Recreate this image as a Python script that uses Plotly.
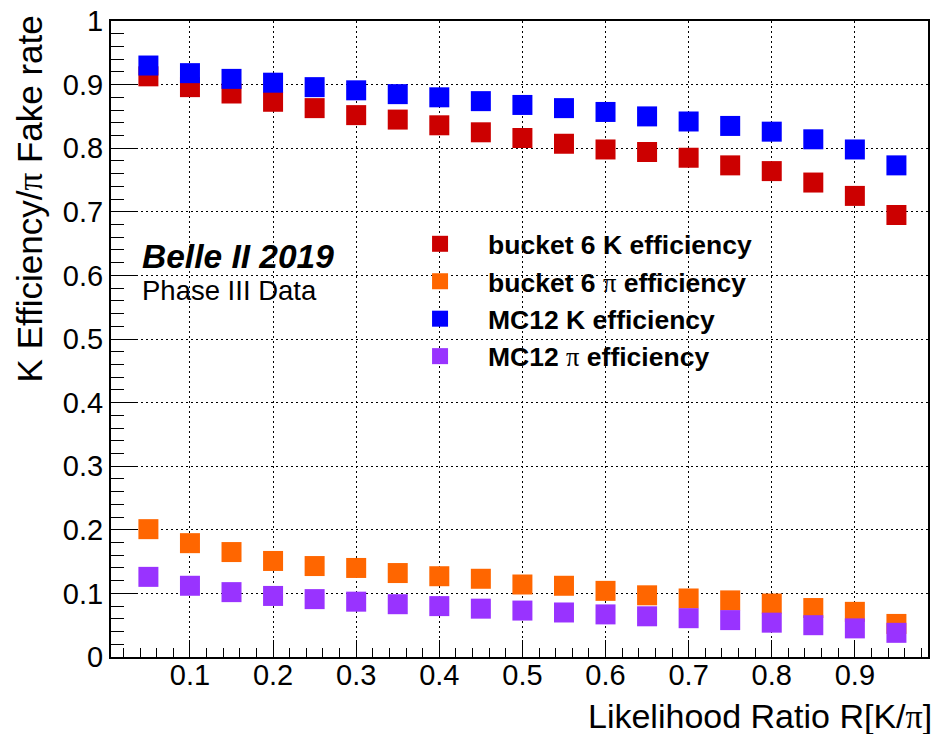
import plotly.graph_objects as go

# Likelihood-ratio cut values R[K/pi]
ratio_cut = [0.05, 0.10, 0.15, 0.20, 0.25, 0.30, 0.35, 0.40, 0.45, 0.50,
             0.55, 0.60, 0.65, 0.70, 0.75, 0.80, 0.85, 0.90, 0.95]

# bucket 6 data
bucket6_k_eff = [0.913, 0.896, 0.886, 0.873, 0.863, 0.852, 0.845, 0.836, 0.825, 0.816,
                 0.807, 0.798, 0.794, 0.785, 0.773, 0.764, 0.746, 0.725, 0.695]
bucket6_pi_eff = [0.201, 0.179, 0.165, 0.151, 0.143, 0.140, 0.132, 0.127, 0.123, 0.114,
                  0.112, 0.104, 0.097, 0.092, 0.089, 0.084, 0.077, 0.071, 0.052]

# MC12 simulation
mc12_k_eff = [0.930, 0.918, 0.909, 0.903, 0.896, 0.891, 0.885, 0.880, 0.874, 0.868,
              0.863, 0.857, 0.850, 0.842, 0.835, 0.826, 0.814, 0.798, 0.773]
mc12_pi_eff = [0.126, 0.112, 0.102, 0.096, 0.091, 0.087, 0.083, 0.080, 0.076, 0.073,
               0.070, 0.067, 0.064, 0.061, 0.058, 0.054, 0.050, 0.045, 0.038]

PI = "<span style='font-family:Liberation Serif;font-weight:normal'>\u03c0</span>"
PI_TITLE = "<span style='font-family:Liberation Serif'>\u03c0</span>"

series = [
    ("bucket 6 K efficiency", bucket6_k_eff, "#cc0000"),
    (f"bucket 6 {PI} efficiency", bucket6_pi_eff, "#ff6600"),
    ("MC12 K efficiency", mc12_k_eff, "#0000ff"),
    (f"MC12 {PI} efficiency", mc12_pi_eff, "#9933ff"),
]

FONT = "Liberation Sans"

fig = go.Figure()
for name, vals, color in series:
    fig.add_trace(go.Scatter(
        x=ratio_cut, y=vals, mode="markers", name=name,
        marker=dict(symbol="square", size=20, color=color,
                    line=dict(width=0)),
    ))

axis_common = dict(
    showline=True, linecolor="black", linewidth=2, mirror=True,
    ticks="inside", tickcolor="black", tickwidth=1,
    showgrid=True, gridcolor="black", gridwidth=1, griddash="2px,3px",
    zeroline=False,
    tickfont=dict(family=FONT, size=29, color="black"),
)

fig.update_xaxes(
    range=[0.005, 0.988], tick0=0, dtick=0.1, ticklen=17,
    ticklabelstandoff=-9,
    minor=dict(dtick=0.02, tick0=0, ticks="inside", ticklen=9,
               tickcolor="black", tickwidth=1, showgrid=False),
    **axis_common,
)
fig.update_yaxes(
    range=[0, 1], tick0=0, dtick=0.1, ticklen=25,
    minor=dict(dtick=0.02, tick0=0, ticks="inside", ticklen=13,
               tickcolor="black", tickwidth=1, showgrid=False),
    **axis_common,
)

fig.update_layout(
    width=935, height=734,
    margin=dict(l=111, r=5, t=18, b=77),
    paper_bgcolor="white", plot_bgcolor="white",
    showlegend=True,
    legend=dict(
        x=0.344, y=0.687, xanchor="left", yanchor="top",
        bgcolor="rgba(0,0,0,0)", borderwidth=0,
        font=dict(family=FONT, size=26.5, color="black", weight="bold"),
        itemwidth=86,
    ),
    annotations=[
        dict(text="<b><i>Belle II 2019</i></b>", xref="paper", yref="paper",
             x=0.039, y=0.629, xanchor="left", yanchor="middle", showarrow=False,
             xshift=-3, font=dict(family=FONT, size=33.5, color="black")),
        dict(text="Phase III Data", xref="paper", yref="paper",
             x=0.039, y=0.576, xanchor="left", yanchor="middle", showarrow=False,
             xshift=-3, font=dict(family=FONT, size=27.5, color="black")),
        dict(text=f"K Efficiency/{PI_TITLE} Fake rate",
             xref="paper", yref="paper", x=-0.099, y=1.005, yshift=4,
             xanchor="center", yanchor="top", textangle=-90, showarrow=False,
             font=dict(family=FONT, size=35, color="black")),
        dict(text=f"Likelihood Ratio R[K/{PI_TITLE}]",
             xref="paper", yref="paper", x=1.0, y=-0.092, xshift=6,
             xanchor="right", yanchor="middle", showarrow=False,
             font=dict(family=FONT, size=34, color="black")),
    ],
)

fig.write_html("out.html")
